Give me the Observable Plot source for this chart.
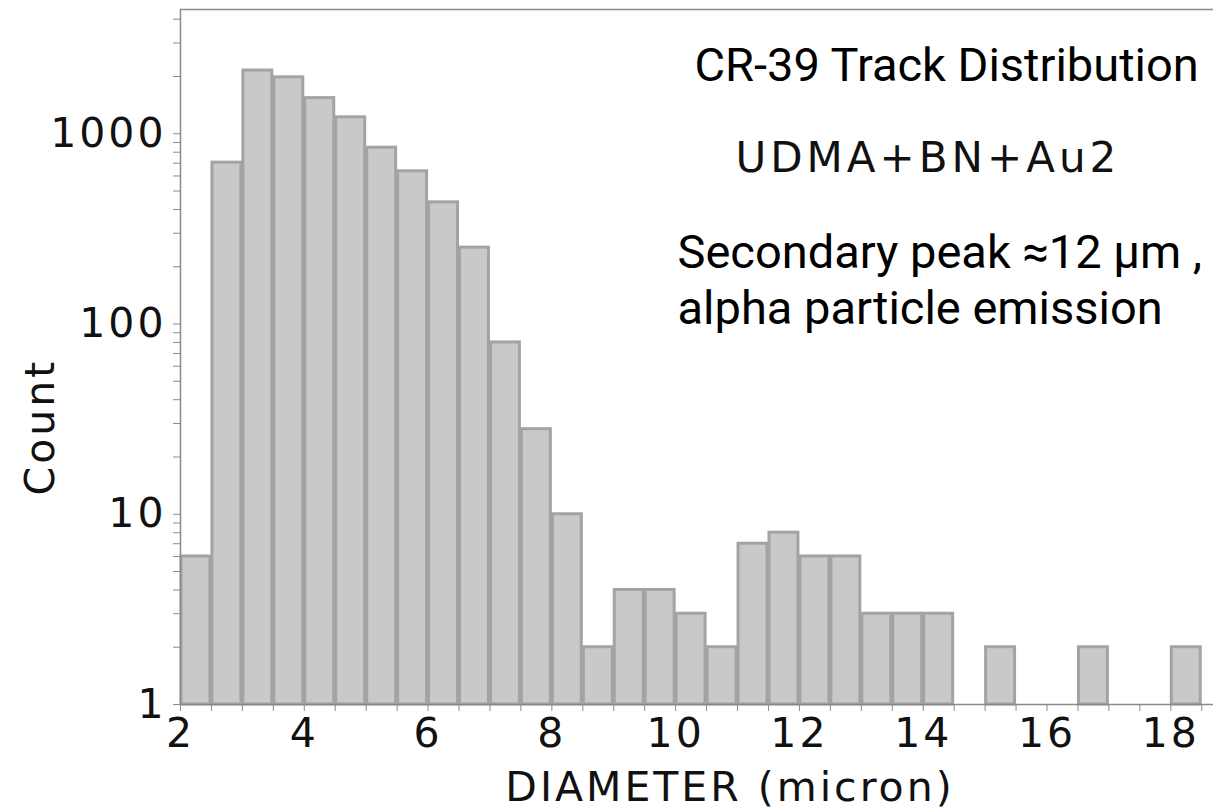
<!DOCTYPE html>
<html>
<head>
<meta charset="utf-8">
<script src="https://cdn.jsdelivr.net/npm/d3@7"></script>
<script src="https://cdn.jsdelivr.net/npm/@observablehq/plot@0.6"></script>
<style>
  html, body { margin: 0; padding: 0; background: #fff; }
  #chart svg { display: block; }
  #chart svg [aria-label="x-axis"] line,
  #chart svg [aria-label="y-axis"] line,
  #chart svg [aria-label="x-axis tick"] path,
  #chart svg [aria-label="y-axis tick"] path { stroke: #8a8a8a; }
  #chart svg .dj { letter-spacing: 3px; }
  #chart svg .dj4 { letter-spacing: 4px; }
</style>
</head>
<body>
<div id="chart"></div>
<script>
// Bin start (micron), bin width 0.5
const binStart = [2, 2.5, 3, 3.5, 4, 4.5, 5, 5.5, 6, 6.5, 7, 7.5, 8, 8.5, 9, 9.5, 10, 10.5,
                  11, 11.5, 12, 12.5, 13, 13.5, 14, 14.5, 15, 15.5, 16, 16.5, 17, 17.5, 18];
const counts   = [6, 705, 2150, 1980, 1540, 1220, 845, 635, 436, 252, 80, 28, 10, 2, 4, 4, 3, 2,
                  7, 8, 6, 6, 3, 3, 3, 0, 2, 0, 0, 2, 0, 0, 2];
const binWidth = 0.5;

const xTickLabels = [2, 4, 6, 8, 10, 12, 14, 16, 18];
const yTickLabels = [1, 10, 100, 1000];

const titleLine = "CR-39 Track Distribution";
const sampleLine = "UDMA+BN+Au2";
const noteLines = ["Secondary peak \u224812 \u03bcm ,", "alpha particle emission"];
const xLabel = "DIAMETER (micron)";
const yLabel = "Count";

const bins = binStart.map((s, i) => ({x1: s, x2: s + binWidth, count: counts[i]}));

const xTicks = d3.range(0, 34).map(i => 2 + i * 0.5);
const yTicks = [];
for (let k = 0; k <= 3; k++) for (let m = 1; m <= 9; m++) { const v = m * Math.pow(10, k); if (v <= 4500) yTicks.push(v); }

const yMax = 4500;

const chart = Plot.plot({
  width: 1213,
  height: 811,
  marginLeft: 180,
  marginRight: 0,
  marginTop: 9,
  marginBottom: 107,
  style: {fontFamily: "'DejaVu Sans', sans-serif", fontSize: "41px", color: "#111", background: "#fff"},
  x: {
    domain: [2, 18.69],
    ticks: xTicks,
    tickSize: 7,
    tickPadding: 6,
    tickFormat: d => xTickLabels.includes(d) ? String(d) : "",
    label: null,
    line: false
  },
  y: {
    type: "log",
    domain: [1, yMax],
    ticks: yTicks,
    tickSize: 7,
    tickPadding: 7,
    tickFormat: d => yTickLabels.includes(d) ? String(d) : "",
    label: null,
    line: false
  },
  marks: [
    Plot.rectY(bins.filter(d => d.count > 0), {
      x1: "x1", x2: "x2", y1: 1, y2: "count",
      fill: "#c9c9c9", stroke: "#a3a3a3", strokeWidth: 3, insetLeft: 1, insetRight: 1
    }),
    Plot.ruleY([1], {stroke: "#8a8a8a", strokeWidth: 1.5}),
    Plot.ruleY([yMax], {stroke: "#8a8a8a", strokeWidth: 1.5}),
    Plot.ruleX([2], {stroke: "#8a8a8a", strokeWidth: 1.5}),
    Plot.text([xLabel], {frameAnchor: "bottom", dx: 33, dy: 83, textAnchor: "middle", lineAnchor: "middle",
      fontSize: 41, fill: "#111", className: "dj"}),
    Plot.text([yLabel], {frameAnchor: "left", rotate: -90, dx: -140, dy: 70, textAnchor: "middle", lineAnchor: "middle",
      fontSize: 41, fill: "#111", className: "dj"}),
    Plot.text([titleLine], {frameAnchor: "top-left", dx: 514, dy: 56, textAnchor: "start", lineAnchor: "middle",
      fontFamily: "Roboto", fontSize: 47, fill: "#000"}),
    Plot.text([sampleLine], {frameAnchor: "top-left", dx: 555, dy: 149, textAnchor: "start", lineAnchor: "middle",
      fontSize: 42, fill: "#111", className: "dj4"}),
    Plot.text([noteLines[0]], {frameAnchor: "top-left", dx: 497, dy: 243, textAnchor: "start", lineAnchor: "middle",
      fontFamily: "Roboto", fontSize: 47, fill: "#000"}),
    Plot.text([noteLines[1]], {frameAnchor: "top-left", dx: 497, dy: 299, textAnchor: "start", lineAnchor: "middle",
      fontFamily: "Roboto", fontSize: 47, fill: "#000"})
  ]
});

document.getElementById("chart").appendChild(chart);
// letter-spacing for axis tick labels (DejaVu text in the source looks slightly widened)
d3.select(chart).selectAll('[aria-label^="x-axis"] text, [aria-label^="y-axis"] text').style("letter-spacing", "3px");
</script>
</body>
</html>
